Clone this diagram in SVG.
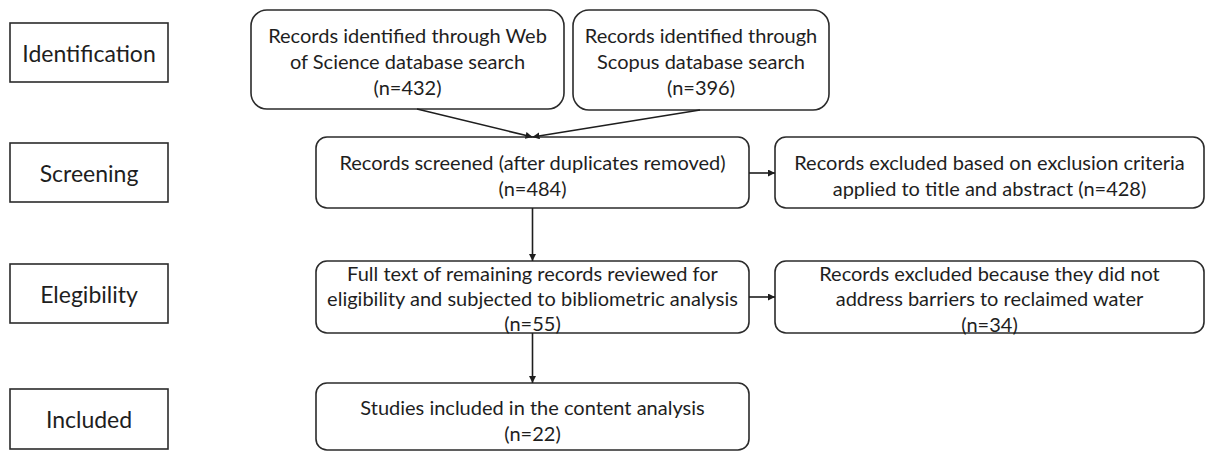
<svg xmlns="http://www.w3.org/2000/svg" width="1206" height="452" viewBox="0 0 1206 452">
  <style>
    .stage { fill: #ffffff; stroke: #2b2b2b; stroke-width: 1.6; }
    .node { fill: #ffffff; stroke: #2b2b2b; stroke-width: 1.6; }
    .stage-label { font-family: Lato, "Liberation Sans", sans-serif; font-size: 23px; fill: #1e1e1e; text-anchor: middle; dominant-baseline: central; }
    .label { font-family: Lato, "Liberation Sans", sans-serif; font-size: 20px; fill: #1e1e1e; text-anchor: middle; dominant-baseline: central; }
    .edge { fill: none; stroke: #1e1e1e; stroke-width: 1.6; }
  </style>
  <defs>
    <marker id="arrow" viewBox="0 0 10 10" refX="10" refY="5" markerWidth="7" markerHeight="7" markerUnits="userSpaceOnUse" orient="auto">
      <path d="M0,0 L10,5 L0,10 Z" fill="#1e1e1e"/>
    </marker>
  </defs>

  <rect width="1206" height="452" fill="#ffffff"/>

  <!-- Stage labels (left column) -->
  <g id="stage-identification">
    <rect class="stage" x="10" y="23" width="158" height="59"/>
    <text class="stage-label" x="89" y="52.5">Identification</text>
  </g>
  <g id="stage-screening">
    <rect class="stage" x="10" y="143" width="158" height="59"/>
    <text class="stage-label" x="89" y="172.5">Screening</text>
  </g>
  <g id="stage-eligibility">
    <rect class="stage" x="10" y="264" width="158" height="59"/>
    <text class="stage-label" x="89" y="293.5">Elegibility</text>
  </g>
  <g id="stage-included">
    <rect class="stage" x="10" y="389" width="158" height="60"/>
    <text class="stage-label" x="89" y="419">Included</text>
  </g>

  <!-- Flow nodes -->
  <g id="wos">
    <rect class="node" x="251" y="10" width="313" height="99" rx="16"/>
    <text class="label" x="407.5" y="35">Records identified through Web</text>
    <text class="label" x="407.5" y="61">of Science database search</text>
    <text class="label" x="407.5" y="87">(n=432)</text>
  </g>
  <g id="scopus">
    <rect class="node" x="573" y="10" width="256" height="100" rx="16"/>
    <text class="label" x="701" y="35">Records identified through</text>
    <text class="label" x="701" y="61">Scopus database search</text>
    <text class="label" x="701" y="87">(n=396)</text>
  </g>
  <g id="screened">
    <rect class="node" x="316" y="137" width="433" height="71" rx="11"/>
    <text class="label" x="532.5" y="162">Records screened (after duplicates removed)</text>
    <text class="label" x="532.5" y="188">(n=484)</text>
  </g>
  <g id="excluded-title-abstract">
    <rect class="node" x="775" y="137" width="429" height="71" rx="11"/>
    <text class="label" x="989.5" y="162">Records excluded based on exclusion criteria</text>
    <text class="label" x="989.5" y="188">applied to title and abstract (n=428)</text>
  </g>
  <g id="full-text">
    <rect class="node" x="316" y="261" width="433" height="72" rx="11"/>
    <text class="label" x="532.5" y="273">Full text of remaining records reviewed for</text>
    <text class="label" x="532.5" y="298">eligibility and subjected to bibliometric analysis</text>
    <text class="label" x="532.5" y="323">(n=55)</text>
  </g>
  <g id="excluded-barriers">
    <rect class="node" x="775" y="261" width="429" height="72" rx="11"/>
    <text class="label" x="989.5" y="273">Records excluded because they did not</text>
    <text class="label" x="989.5" y="298">address barriers to reclaimed water</text>
    <text class="label" x="989.5" y="324">(n=34)</text>
  </g>
  <g id="included-studies">
    <rect class="node" x="316" y="383" width="433" height="67" rx="11"/>
    <text class="label" x="532.5" y="407">Studies included in the content analysis</text>
    <text class="label" x="532.5" y="433">(n=22)</text>
  </g>

  <!-- Connectors -->
  <g id="connectors">
    <line class="edge" x1="417" y1="109" x2="532.5" y2="137" marker-end="url(#arrow)"/>
    <line class="edge" x1="700" y1="110" x2="532.5" y2="137" marker-end="url(#arrow)"/>
    <line class="edge" x1="749" y1="173" x2="775" y2="173" marker-end="url(#arrow)"/>
    <line class="edge" x1="532.5" y1="208" x2="532.5" y2="261" marker-end="url(#arrow)"/>
    <line class="edge" x1="749" y1="297" x2="775" y2="297" marker-end="url(#arrow)"/>
    <line class="edge" x1="532.5" y1="333" x2="532.5" y2="383" marker-end="url(#arrow)"/>
  </g>
</svg>
